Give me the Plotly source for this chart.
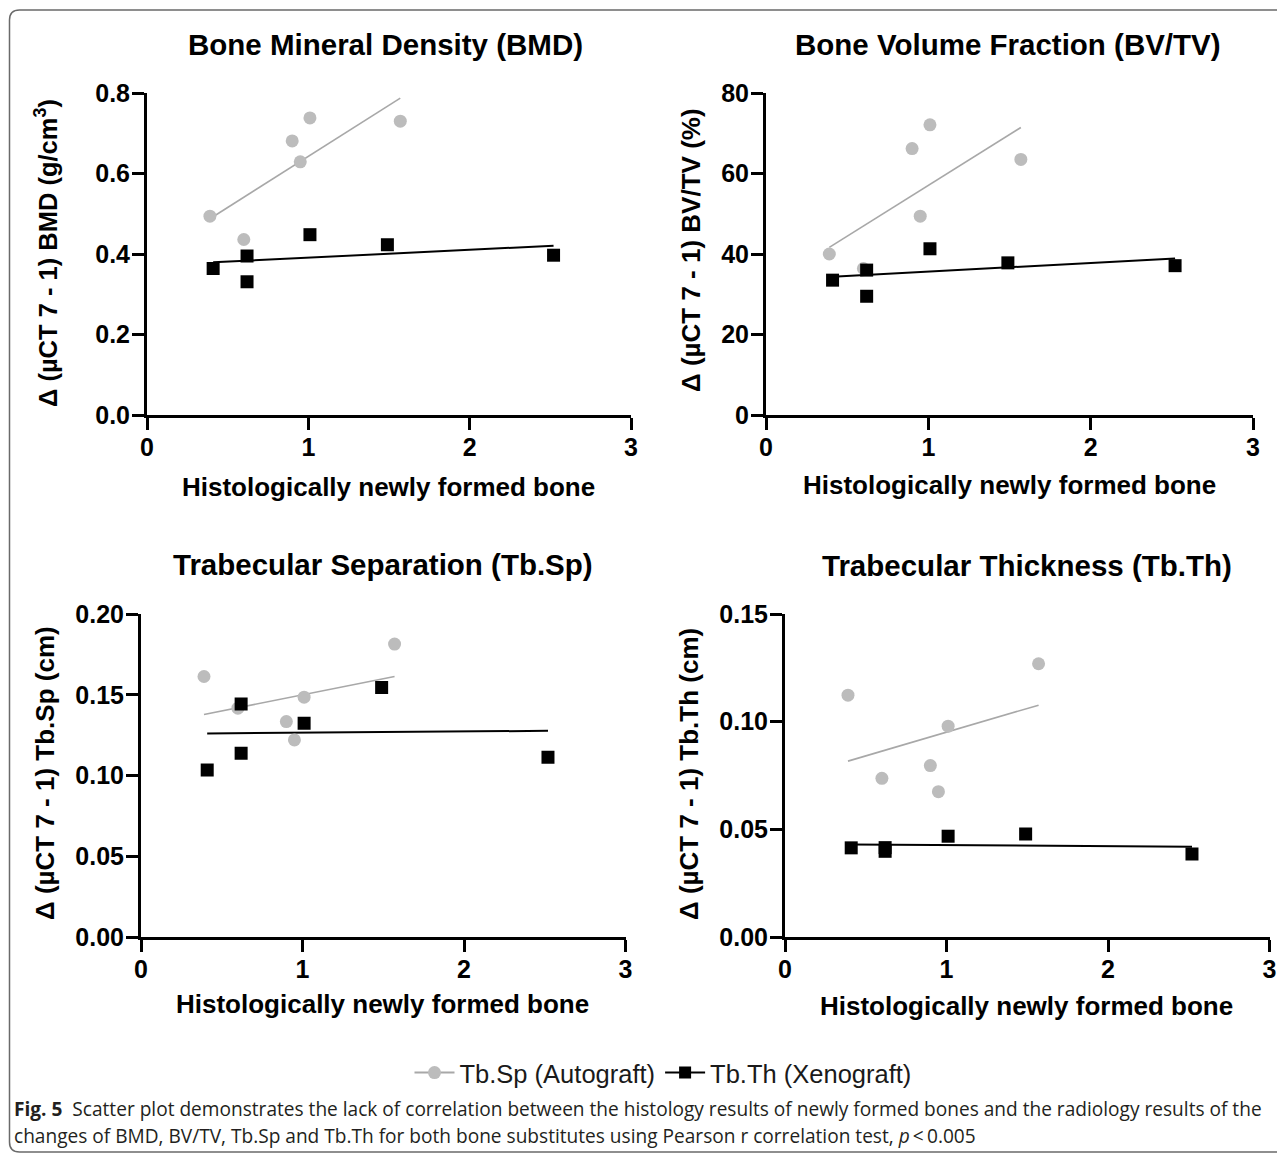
import numpy as np
import plotly.graph_objects as go

# ---------------- data ----------------
auto_x = [0.39, 0.60, 0.90, 0.95, 1.01, 1.57]
xeno_x = [0.41, 0.62, 0.62, 1.01, 1.49, 2.52]

bmd_auto = [0.494, 0.436, 0.681, 0.629, 0.738, 0.730]
bmd_xeno = [0.364, 0.395, 0.331, 0.448, 0.423, 0.397]

bvtv_auto = [40.0, 36.4, 66.2, 49.4, 72.1, 63.5]
bvtv_xeno = [33.5, 36.0, 29.5, 41.3, 37.8, 37.1]

tbsp_auto = [0.1613, 0.1417, 0.1334, 0.1220, 0.1485, 0.1814]
tbsp_xeno = [0.1034, 0.1442, 0.1138, 0.1324, 0.1545, 0.1113]

tbth_auto = [0.1123, 0.0737, 0.0796, 0.0675, 0.0979, 0.1269]
tbth_xeno = [0.0414, 0.0415, 0.0398, 0.0468, 0.0478, 0.0385]

panel_titles = ["Bone Mineral Density (BMD)", "Bone Volume Fraction (BV/TV)",
                "Trabecular Separation (Tb.Sp)", "Trabecular Thickness (Tb.Th)"]
y_titles = ["Δ (µCT 7 - 1) BMD (g/cm<sup>3</sup>)", "Δ (µCT 7 - 1) BV/TV (%)",
            "Δ (µCT 7 - 1) Tb.Sp (cm)", "Δ (µCT 7 - 1) Tb.Th (cm)"]
x_title = "Histologically newly formed bone"
legend_names = ["Tb.Sp (Autograft)", "Tb.Th (Xenograft)"]

x_ticks = [0, 1, 2, 3]
y_ticks = [[0.0, 0.2, 0.4, 0.6, 0.8], [0, 20, 40, 60, 80],
           [0.00, 0.05, 0.10, 0.15, 0.20], [0.00, 0.05, 0.10, 0.15]]
y_fmt = [".1f", "d", ".2f", ".2f"]

# ---------------- style ----------------
GRAY = "#bcbcbc"
GRAY_LINE = "#a8a8a8"
BLACK = "#000000"
FONT = "Liberation Sans, Arial, sans-serif"
OFF = 8                      # page body margin
W, H = 1285 - OFF, 1155 - OFF


def fx(p):
    return (p - OFF) / W


def fy(p):
    return 1 - (p - OFF) / H


# plot area positions (page pixels)
px_dom = [
    ((147, 631), (93, 415)),
    ((766, 1253), (93, 415)),
    ((141, 625.5), (614, 937)),
    ((785, 1269.5), (614, 937)),
]

fig = go.Figure()

series = [(bmd_auto, bmd_xeno), (bvtv_auto, bvtv_xeno),
          (tbsp_auto, tbsp_xeno), (tbth_auto, tbth_xeno)]

annotations = []
for i, (ya, yx) in enumerate(series):
    n = "" if i == 0 else str(i + 1)
    xa, yaax = "x" + n, "y" + n
    # least-squares fit lines
    for xs, ys, col, lw in [(auto_x, ya, GRAY_LINE, 1.6), (xeno_x, yx, BLACK, 2)]:
        k, b = np.polyfit(xs, ys, 1)
        lx = np.array([min(xs), max(xs)])
        fig.add_trace(go.Scatter(x=lx, y=k * lx + b, mode="lines",
                                 line=dict(color=col, width=lw),
                                 xaxis=xa, yaxis=yaax, showlegend=False,
                                 hoverinfo="skip"))
    fig.add_trace(go.Scatter(x=auto_x, y=ya, mode="markers",
                             marker=dict(symbol="circle", size=13, color=GRAY),
                             xaxis=xa, yaxis=yaax, showlegend=False))
    fig.add_trace(go.Scatter(x=xeno_x, y=yx, mode="markers",
                             marker=dict(symbol="square", size=13, color=BLACK),
                             xaxis=xa, yaxis=yaax, showlegend=False))

    (x0, x1), (y0, y1) = px_dom[i]
    axis_common = dict(showline=True, linewidth=3, linecolor=BLACK,
                       ticks="outside", ticklen=12, tickwidth=3, tickcolor=BLACK,
                       showgrid=False, zeroline=False, automargin=False,
                       tickfont=dict(family=FONT, size=25, color=BLACK, weight="bold"))
    fig.layout["xaxis" + n] = dict(domain=[fx(x0), fx(x1)], range=[0, 3],
                                   tickvals=x_ticks, anchor=yaax,
                                   ticklabelstandoff=-4, **axis_common)
    fig.layout["yaxis" + n] = dict(domain=[fy(y1), fy(y0)],
                                   range=[y_ticks[i][0], y_ticks[i][-1]],
                                   tickvals=y_ticks[i], tickformat=y_fmt[i],
                                   anchor=xa, ticklabelstandoff=-3, **axis_common)

# legend traces
fig.add_trace(go.Scatter(x=[None], y=[None], mode="lines+markers", name=legend_names[0],
                         line=dict(color=GRAY_LINE, width=2),
                         marker=dict(symbol="circle", size=13, color=GRAY)))
fig.add_trace(go.Scatter(x=[None], y=[None], mode="lines+markers", name=legend_names[1],
                         line=dict(color=BLACK, width=2),
                         marker=dict(symbol="square", size=12, color=BLACK)))

title_pos = [(386, 45), (1008, 45), (383, 564), (1027, 565)]
xt_pos = [(389, 487), (1009, 485), (383, 1004), (1027, 1006)]
yt_pos = [(46, 253), (691, 250), (45, 773), (689, 774)]
for i in range(4):
    tx, ty = title_pos[i]
    annotations.append(dict(text=panel_titles[i], x=fx(tx), y=fy(ty),
                            xref="paper", yref="paper", showarrow=False,
                            xanchor="center", yanchor="middle",
                            font=dict(family=FONT, size=29.5, color=BLACK, weight="bold")))
    ax, ay = xt_pos[i]
    annotations.append(dict(text=x_title, x=fx(ax), y=fy(ay),
                            xref="paper", yref="paper", showarrow=False,
                            xanchor="center", yanchor="middle",
                            font=dict(family=FONT, size=26, color=BLACK, weight="bold")))
    yx_, yy_ = yt_pos[i]
    annotations.append(dict(text=y_titles[i], x=fx(yx_), y=fy(yy_),
                            xref="paper", yref="paper", showarrow=False,
                            xanchor="center", yanchor="middle", textangle=-90,
                            font=dict(family=FONT, size=25.5 if i == 0 else 26,
                                      color=BLACK, weight="bold")))

CAP_FONT = "Open Sans, Noto Sans, sans-serif"
annotations.append(dict(
    text="<b>Fig. 5</b>  Scatter plot demonstrates the lack of correlation between the histology results of newly formed bones and the radiology results of the",
    x=fx(12), y=fy(1109), xref="paper", yref="paper", showarrow=False,
    xanchor="left", yanchor="middle",
    font=dict(family=CAP_FONT, size=19.1, color="#231f20")))
annotations.append(dict(
    text="changes of BMD, BV/TV, Tb.Sp and Tb.Th for both bone substitutes using Pearson r correlation test, <i>p</i>&#8201;&lt;&#8201;0.005",
    x=fx(12), y=fy(1136), xref="paper", yref="paper", showarrow=False,
    xanchor="left", yanchor="middle",
    font=dict(family=CAP_FONT, size=19.1, color="#231f20")))

r = 10
L, T, B, R = 9.5, 10, 1152, 1300
path = (f"M {fx(L)} {fy(T+r)} Q {fx(L)} {fy(T)} {fx(L+r)} {fy(T)} "
        f"L {fx(R)} {fy(T)} M {fx(L)} {fy(T+r)} L {fx(L)} {fy(B-r)} "
        f"Q {fx(L)} {fy(B)} {fx(L+r)} {fy(B)} L {fx(R)} {fy(B)}")

fig.update_layout(
    template="none",
    width=W, height=H,
    margin=dict(l=0, r=0, t=0, b=0, pad=0, autoexpand=False),
    paper_bgcolor="white", plot_bgcolor="white",
    showlegend=True,
    legend=dict(orientation="h", x=fx(663), xanchor="center",
                y=fy(1073), yanchor="middle",
                font=dict(family=FONT, size=25.5, color="#1a1a1a"),
                bgcolor="rgba(0,0,0,0)", itemwidth=40),
    annotations=annotations,
    shapes=[dict(type="path", path=path, xref="paper", yref="paper",
                 line=dict(color="#6a6a6a", width=1.5))],
)

fig.write_html("out.html")
